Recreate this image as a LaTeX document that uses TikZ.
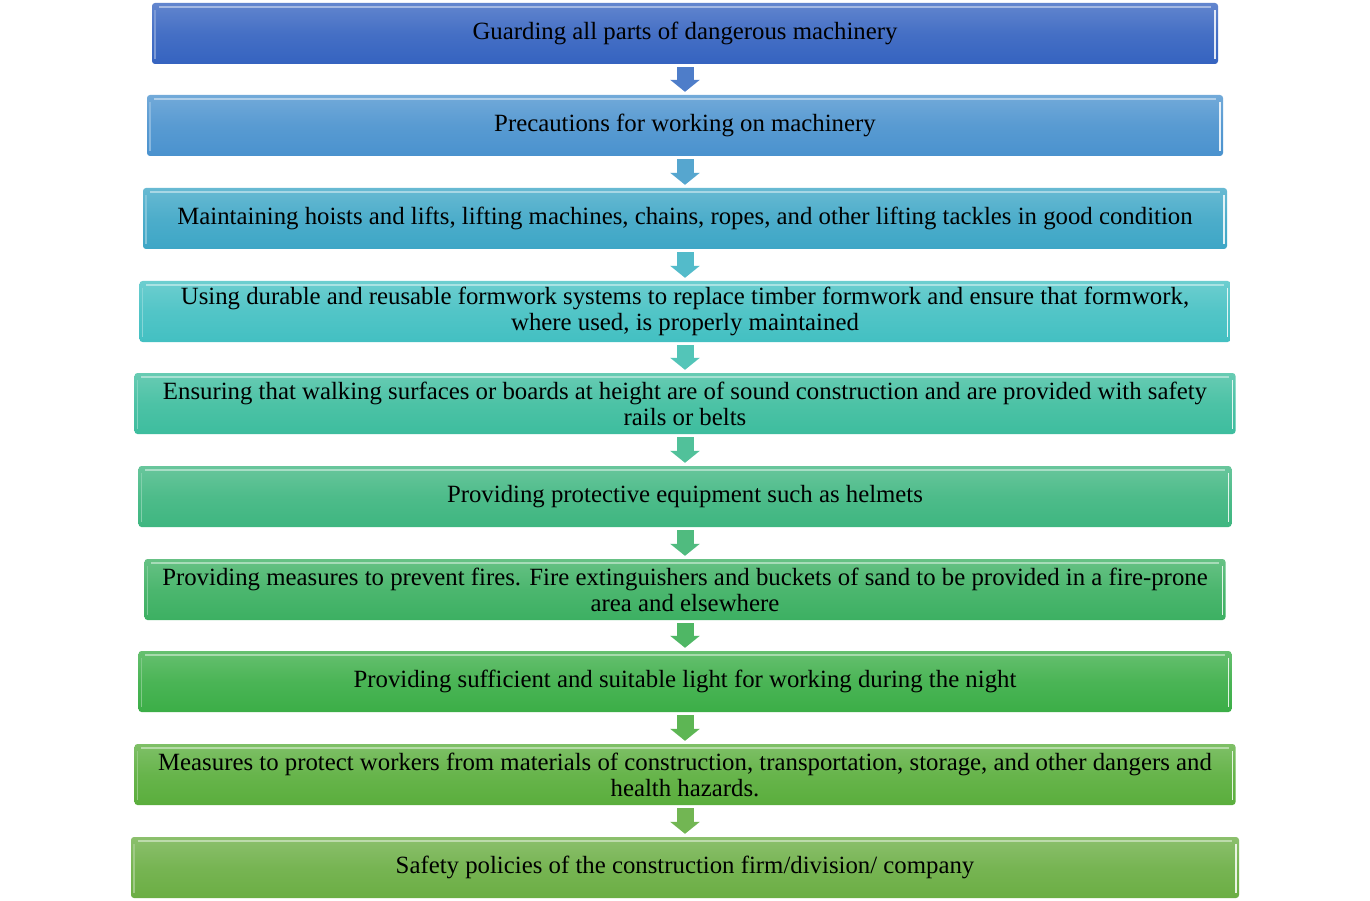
\documentclass[tikz,border=0pt]{standalone}
\usepackage{fontspec}
\setmainfont{Liberation Serif}
\usetikzlibrary{arrows.meta}

% box fill colours, top to bottom
\definecolor{c1}{HTML}{3563C0}
\definecolor{c2}{HTML}{4A92CE}
\definecolor{c3}{HTML}{3DA6C6}
\definecolor{c4}{HTML}{43C0C2}
\definecolor{c5}{HTML}{3DBD9E}
\definecolor{c6}{HTML}{3EB680}
\definecolor{c7}{HTML}{3CB062}
\definecolor{c8}{HTML}{3BAE47}
\definecolor{c9}{HTML}{5AAE3C}
\definecolor{c10}{HTML}{6BAE44}

\tikzset{
  flowbox/.style={rounded corners=3pt, minimum height=61pt, inner sep=0pt,
    align=center, font=\fontsize{24.8}{26}\selectfont, text=black},
  blockarrow/.style={line width=17pt, shorten <=3pt, shorten >=3pt,
    -{Triangle[width=29pt,length=12pt]}},
}

% #1 name, #2 centre y, #3 width, #4 colour, #5 text
\newcommand\flowbox[5]{%
  \node[flowbox, minimum width=#3pt, top color=#4!78!white, bottom color=#4,
        middle color=#4!92!white] (#1) at (685,#2) {#5};
  % bevel highlights
  \draw[line width=2pt, #4!45!white]
    ([xshift=7pt,yshift=-4pt]#1.north west) -- ([xshift=-7pt,yshift=-4pt]#1.north east);
  \draw[line width=1.5pt, white!85!#4]
    ([xshift=-3pt,yshift=-7pt]#1.north east) -- ([xshift=-3pt,yshift=5pt]#1.south east);
  \draw[line width=1.5pt, #4!65!white]
    ([xshift=3pt,yshift=-7pt]#1.north west) -- ([xshift=3pt,yshift=5pt]#1.south west);
}

\begin{document}
\begin{tikzpicture}[x=1pt,y=-1pt]
\useasboundingbox[fill=white] (0,0) rectangle (1370,901);

\flowbox{b1}{33.5}{1066}{c1}{Guarding all parts of dangerous machinery}
\flowbox{b2}{125.5}{1076}{c2}{Precautions for working on machinery}
\flowbox{b3}{218.5}{1084}{c3}{Maintaining hoists and lifts, lifting machines, chains, ropes, and other lifting tackles in good condition}
\flowbox{b4}{311.5}{1091}{c4}{Using durable and reusable formwork systems to replace timber formwork and ensure that formwork,\\ where used, is properly maintained}
\flowbox{b5}{403.5}{1101}{c5}{Ensuring that walking surfaces or boards at height are of sound construction and are provided with safety\\ rails or belts}
\flowbox{b6}{496.5}{1093}{c6}{Providing protective equipment such as helmets}
\flowbox{b7}{589.5}{1081}{c7}{Providing measures to prevent fires. Fire extinguishers and buckets of sand to be provided in a fire-prone\\ area and elsewhere}
\flowbox{b8}{681.5}{1093}{c8}{Providing sufficient and suitable light for working during the night}
\flowbox{b9}{774.5}{1101}{c9}{Measures to protect workers from materials of construction, transportation, storage, and other dangers and\\ health hazards.}
\flowbox{b10}{867.5}{1108}{c10}{Safety policies of the construction firm/division/ company}

% connecting arrows
\draw[blockarrow, c1!75!c2!90!white] (b1) -- (b2);
\draw[blockarrow, c2!50!c3!90!white] (b2) -- (b3);
\draw[blockarrow, c3!50!c4!90!white] (b3) -- (b4);
\draw[blockarrow, c4!50!c5!90!white] (b4) -- (b5);
\draw[blockarrow, c5!50!c6!90!white] (b5) -- (b6);
\draw[blockarrow, c6!50!c7!90!white] (b6) -- (b7);
\draw[blockarrow, c7!50!c8!90!white] (b7) -- (b8);
\draw[blockarrow, c8!50!c9!90!white] (b8) -- (b9);
\draw[blockarrow, c9!50!c10!90!white] (b9) -- (b10);
\end{tikzpicture}
\end{document}
